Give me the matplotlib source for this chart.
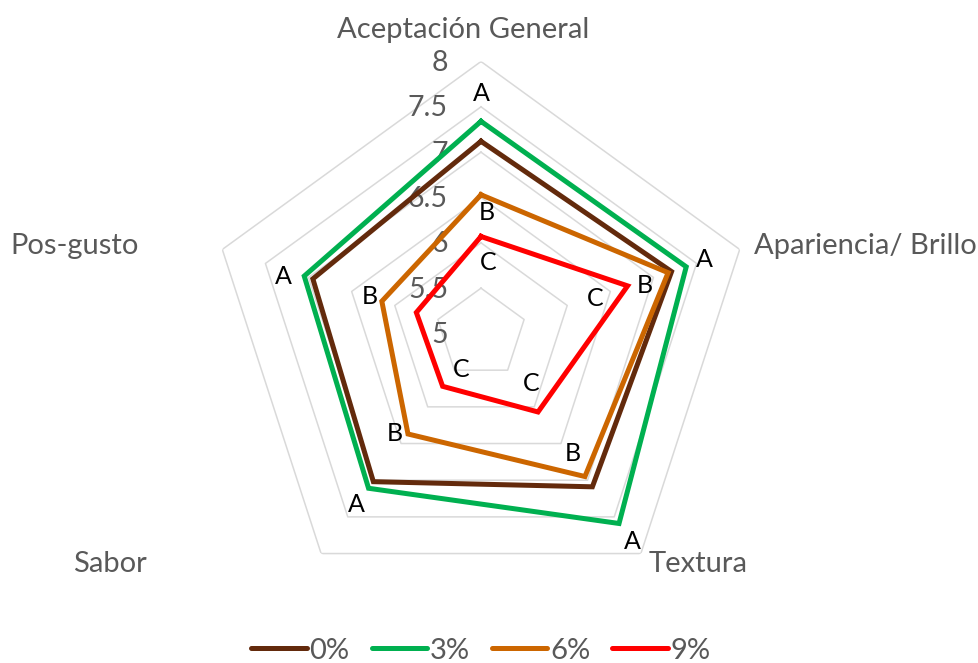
import numpy as np
import matplotlib
matplotlib.use("Agg")
import matplotlib.pyplot as plt
from matplotlib.lines import Line2D

plt.rcParams["font.family"] = ["Lato", "DejaVu Sans"]

categories = ["Aceptación General", "Apariencia/ Brillo", "Textura", "Sabor", "Pos-gusto"]
series_names = ["0%", "3%", "6%", "9%"]
s0 = [7.12, 7.21, 7.09, 7.02, 6.95]
s3 = [7.34, 7.38, 7.59, 7.11, 7.05]
s6 = [6.53, 7.17, 6.95, 6.37, 6.15]
s9 = [6.07, 6.70, 6.07, 5.72, 5.75]
tick_values = [5, 5.5, 6, 6.5, 7, 7.5, 8]
tick_labels = ["5", "5.5", "6", "6.5", "7", "7.5", "8"]

# significance letters, attached to the series they sit next to
letters_s3 = ["A", "A", "A", "A", "A"]
letters_s6 = ["B", "B", "B", "B", "B"]
letters_s9 = ["C", "C", "C", "C", None]

colors = ["#632A0C", "#00B050", "#CC6600", "#FF0000"]
GRID = "#D9D9D9"
GRAY = "#595959"

W, H = 979, 663
fig = plt.figure(figsize=(W / 100, H / 100), dpi=100)
cx, cy, R = 481, 333.5, 272
ax = fig.add_axes([(cx - R) / W, (H - cy - R) / H, 2 * R / W, 2 * R / H], projection="polar")
ax.set_theta_zero_location("N")
ax.set_theta_direction(-1)
ax.set_ylim(5, 8)
ax.grid(False)
ax.set_xticks([])
ax.set_yticks([])
ax.spines["polar"].set_visible(False)
ax.patch.set_visible(False)

n = len(categories)
angles = np.linspace(0, 2 * np.pi, n, endpoint=False)
closed = np.append(angles, angles[0])

for level in tick_values[1:]:
    ax.plot(closed, [level] * (n + 1), color=GRID, lw=1.1, zorder=1)

for level, lab in zip(tick_values, tick_labels):
    ax.annotate(lab, xy=(0, level), xytext=(-33, -1.5), textcoords="offset pixels",
                ha="right", va="center", fontsize=20.5, color=GRAY, zorder=2)

for vals, col in zip([s0, s3, s6, s9], colors):
    ax.plot(closed, vals + vals[:1], color=col, lw=3.6, solid_joinstyle="miter",
            zorder=3)

offs_s3 = [(0, 28), (18, 7), (13, -18), (-12, -16), (-21, 0)]
offs_s6 = [(6, -18), (-23, -13), (-12, 23), (-13, 0), (-12, 5)]
offs_s9 = [(7, -26), (-32, -13), (-7, 28), (19, 17), None]
for vals, letters, offs in [(s3, letters_s3, offs_s3), (s6, letters_s6, offs_s6),
                            (s9, letters_s9, offs_s9)]:
    for a, v, t, o in zip(angles, vals, letters, offs):
        if t is None:
            continue
        ax.annotate(t, xy=(a, v), xytext=o, textcoords="offset pixels",
                    ha="center", va="center", fontsize=18, color="black", zorder=4)

# category labels (pixel centre x, baseline y)
cat_pos = [(463.5, 37.7), (865, 254), (698, 571.7), (109.7, 571.7), (74.5, 254)]
for name, (px, py) in zip(categories, cat_pos):
    fig.text(px / W, 1 - py / H, name, ha="center", va="baseline",
             fontsize=21, color=GRAY)

handles = [Line2D([], [], color=c, lw=3.6, solid_capstyle="round") for c in colors]
fig.legend(handles, series_names, loc="center", bbox_to_anchor=(cx / W, 1 - 650.7 / H),
           ncol=4, frameon=False, fontsize=21, labelcolor=GRAY,
           handlelength=1.9, handletextpad=0.1, columnspacing=0.75)

fig.savefig("out.png", dpi=100)
